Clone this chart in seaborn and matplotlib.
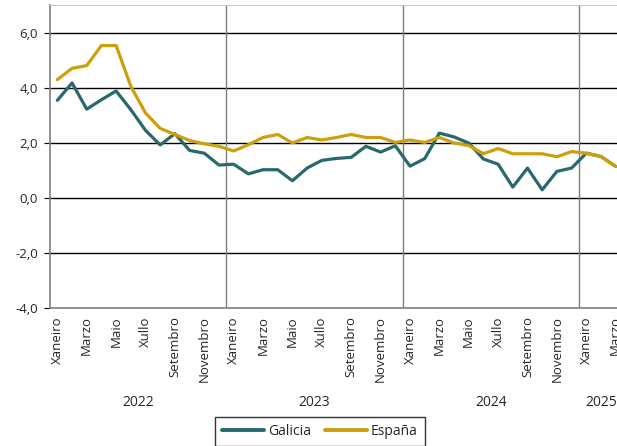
import numpy as np
import pandas as pd
import seaborn as sns
import matplotlib.pyplot as plt
import matplotlib.transforms as mtransforms

# monthly data Jan 2022 .. Mar 2025
month_names = ["Xaneiro", "Febreiro", "Marzo", "Abril", "Maio", "Xuño",
               "Xullo", "Agosto", "Setembro", "Outubro", "Novembro", "Decembro"]
years = ["2022", "2023", "2024", "2025"]
n_months = 39

galicia = [3.54, 4.17, 3.22, 3.56, 3.88, 3.20, 2.45, 1.92, 2.33, 1.72, 1.62, 1.19,
           1.22, 0.87, 1.02, 1.02, 0.62, 1.08, 1.36, 1.43, 1.47, 1.87, 1.66, 1.89,
           1.15, 1.42, 2.35, 2.21, 1.99, 1.41, 1.22, 0.39, 1.08, 0.29, 0.96, 1.08,
           1.62, 1.50, 1.14]
espana = [4.29, 4.70, 4.80, 5.53, 5.53, 4.05, 3.08, 2.52, 2.30, 2.08, 1.96, 1.87,
          1.70, 1.93, 2.19, 2.30, 1.99, 2.19, 2.10, 2.19, 2.30, 2.19, 2.19, 2.01,
          2.10, 2.01, 2.19, 1.99, 1.90, 1.60, 1.79, 1.60, 1.60, 1.60, 1.49, 1.68,
          1.62, 1.50, 1.14]

df = pd.DataFrame({
    "mes": list(range(n_months)) * 2,
    "valor": galicia + espana,
    "serie": ["Galicia"] * n_months + ["España"] * n_months,
})

sns.set_style("white")
plt.rcParams["font.family"] = ["Open Sans", "DejaVu Sans"]

fig = plt.figure(figsize=(6.17, 4.46), dpi=100)
ax = fig.add_axes([50 / 617, 1 - 308 / 446, 573 / 617, 303 / 446])

sns.lineplot(data=df, x="mes", y="valor", hue="serie",
             palette={"Galicia": "#28696c", "España": "#cca00a"},
             linewidth=2.3, ax=ax, legend=False)

ax.set_xlim(-0.5, n_months - 0.5)
ax.set_ylim(-4, 7)
ax.set_yticks([-4, -2, 0, 2, 4, 6])
ax.set_yticklabels([f"{v:.1f}".replace(".", ",") for v in [-4, -2, 0, 2, 4, 6]],
                   fontsize=9.5)
for v in [-2, 0, 2, 4, 6]:
    ax.axhline(v, color="black", lw=1, zorder=0)
for b in [11.5, 23.5, 35.5]:
    ax.axvline(b, color="#7f7f7f", lw=1, zorder=0)

ticks = list(range(0, n_months, 2))
ax.set_xticks(ticks)
ax.set_xticklabels([month_names[i % 12] for i in ticks], rotation=90, fontsize=9.5)
ax.tick_params(axis="x", length=0, pad=6)
ax.tick_params(axis="y", length=4.5, color="black", pad=4, left=True)
ax.set_xlabel("")
ax.set_ylabel("")

for side in ["left", "bottom"]:
    ax.spines[side].set_color("#7f7f7f")
    ax.spines[side].set_linewidth(1.2)
ax.spines["top"].set_color("#c8c8c8")
ax.spines["right"].set_visible(False)

# year labels under the months
trans = mtransforms.blended_transform_factory(ax.transData, fig.transFigure)
starts = [0, 12, 24, 36]
ends = [12, 24, 36, n_months]
for yr, s, e in zip(years, starts, ends):
    ax.text((s + e - 1) / 2, 1 - 402 / 446, yr, transform=trans,
            ha="center", va="center", fontsize=10)

handles = [plt.Line2D([], [], color="#28696c", lw=2.8),
           plt.Line2D([], [], color="#cca00a", lw=2.8)]
leg = fig.legend(handles, ["Galicia", "España"], loc="upper center",
                 bbox_to_anchor=(320 / 617, 1 - 417 / 446), ncol=2,
                 fontsize=10, frameon=True, fancybox=False, handlelength=3.0,
                 handletextpad=0.3, columnspacing=1.0, borderpad=0.5,
                 borderaxespad=0)
leg.get_frame().set_edgecolor("black")
leg.get_frame().set_linewidth(1)

fig.savefig("out.png", dpi=100)
